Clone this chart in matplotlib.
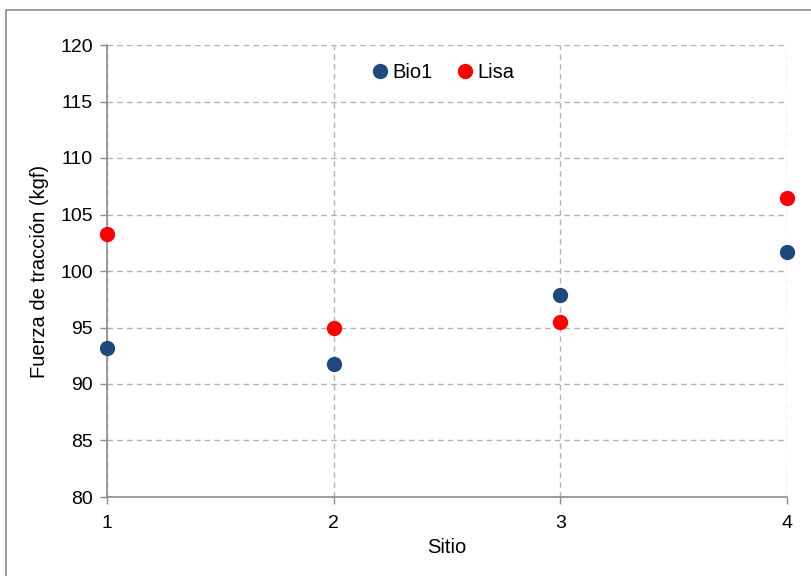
import matplotlib.pyplot as plt
from matplotlib.patches import Rectangle

plt.rcParams['font.family'] = ['Liberation Sans', 'DejaVu Sans']

sitios = [1, 2, 3, 4]
bio1 = [93.2, 91.8, 97.9, 101.7]
lisa = [103.3, 95.0, 95.5, 106.45]

fig = plt.figure(figsize=(8.11, 5.76), dpi=100)
ax = fig.add_axes([107 / 811, 1 - 497 / 576, 680 / 811, 452 / 576])

# outer chart frame
fig.patches.append(Rectangle((6 / 811, -0.05), 1.0, 1 - 10 / 576 + 0.05,
                             transform=fig.transFigure, fill=False,
                             edgecolor='#8c8c8c', linewidth=1.2))

ax.plot(sitios, bio1, 'o', color='#1f497d', ms=10, label='Bio1', clip_on=False, zorder=3)
ax.plot(sitios, lisa, 'o', color='#ff0000', ms=10, label='Lisa', clip_on=False, zorder=3)

ax.set_xlim(1, 4)
ax.set_ylim(80, 120)
ax.set_xticks(sitios)
ax.set_yticks(range(80, 121, 5))
ax.grid(True, color='#b3b3b3', linestyle=(0, (4, 3)), linewidth=1)
ax.set_axisbelow(True)

for s in ['top', 'right']:
    ax.spines[s].set_visible(False)
for s in ['left', 'bottom']:
    ax.spines[s].set_color('#8c8c8c')
    ax.spines[s].set_linewidth(1.2)
ax.tick_params(colors='#8c8c8c', labelcolor='black', labelsize=14, length=5, width=1)
ax.tick_params(axis='x', pad=8)
ax.tick_params(axis='y', pad=5)

ax.set_xlabel('Sitio', fontsize=14.5, labelpad=4)
ax.set_ylabel('Fuerza de tracción (kgf)', fontsize=14.5, labelpad=8)

ax.legend(loc='upper center', bbox_to_anchor=(0.495, 1.0), ncol=2, frameon=False,
          fontsize=14.5, handlelength=0.7, handletextpad=0.25, columnspacing=1.3,
          borderpad=0.4)

fig.savefig('out.png', dpi=100)
